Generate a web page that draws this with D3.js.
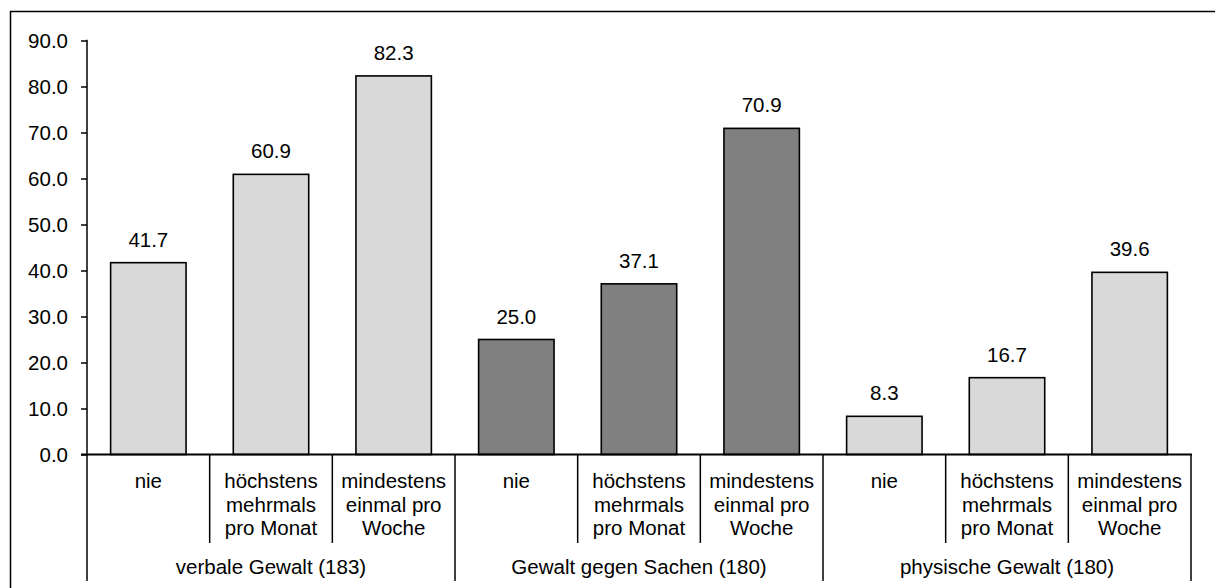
<!DOCTYPE html>
<html><head><meta charset="utf-8">
<script src="https://cdn.jsdelivr.net/npm/d3@7/dist/d3.min.js"></script>
<style>
html,body{margin:0;padding:0;background:#fff;}
svg{display:block;font-family:"Liberation Sans",Arial,sans-serif;}
</style></head>
<body>
<svg id="chart" width="1215" height="588"></svg>
<script>
const groups = ["verbale Gewalt (183)", "Gewalt gegen Sachen (180)", "physische Gewalt (180)"];
const categories = [["nie"], ["höchstens", "mehrmals", "pro Monat"], ["mindestens", "einmal pro", "Woche"]];
const valuesVerbal = [41.7, 60.9, 82.3];
const valuesSachen = [25.0, 37.1, 70.9];
const valuesPhysisch = [8.3, 16.7, 39.6];
const groupColors = ["#d9d9d9", "#808080", "#d9d9d9"];
const yTicks = [0, 10, 20, 30, 40, 50, 60, 70, 80, 90];

const seriesValues = [valuesVerbal, valuesSachen, valuesPhysisch];
const rows = [];
groups.forEach((g, gi) => {
  categories.forEach((c, ci) => {
    rows.push({key: gi + "-" + ci, group: gi, cat: ci, value: seriesValues[gi][ci]});
  });
});

const svg = d3.select("#chart");
const fontSize = 20.5;
const x0 = 87, x1 = 1191, yTop = 40.5, yBase = 454.5;

// outer border
svg.append("rect").attr("x", 10.5).attr("y", 11.5).attr("width", 1230).attr("height", 600)
  .attr("fill", "none").attr("stroke", "#000").attr("stroke-width", 1.5);

const x = d3.scaleBand().domain(rows.map(d => d.key)).range([x0, x1])
  .paddingInner(0.385).paddingOuter(0.1925);
const y = d3.scaleLinear().domain([0, 90]).range([yBase, yTop]);
const step = x.step();
const bandStart = i => x0 + i * step;

// bars
svg.append("g").selectAll("rect").data(rows).join("rect")
  .attr("x", d => x(d.key)).attr("width", x.bandwidth())
  .attr("y", d => y(d.value)).attr("height", d => y(0) - y(d.value))
  .attr("fill", d => groupColors[d.group])
  .attr("stroke", "#000").attr("stroke-width", 1.6);

// value labels
svg.append("g").selectAll("text").data(rows).join("text")
  .attr("x", d => x(d.key) + x.bandwidth() / 2)
  .attr("y", d => y(d.value) - 16)
  .attr("text-anchor", "middle").attr("font-size", fontSize)
  .text(d => d3.format(".1f")(d.value));

// y axis
const yAxis = d3.axisLeft(y).tickValues(yTicks).tickFormat(d3.format(".1f"))
  .tickSize(6).tickPadding(13);
const ga = svg.append("g").attr("transform", `translate(${x0},0)`).call(yAxis);
ga.select(".domain").remove();
ga.selectAll("line").attr("stroke", "#000").attr("stroke-width", 1.5);
ga.selectAll("text").attr("font-size", fontSize).attr("font-family", "Liberation Sans, Arial, sans-serif")
  .attr("fill", "#000").attr("dy", "0.36em");
svg.append("line").attr("x1", x0).attr("x2", x0).attr("y1", y(90) - 0.75).attr("y2", 581)
  .attr("stroke", "#000").attr("stroke-width", 1.5);

// x axis baseline
svg.append("line").attr("x1", x0 - 6).attr("x2", x1 + 1).attr("y1", y(0)).attr("y2", y(0))
  .attr("stroke", "#000").attr("stroke-width", 2);

// separators
const seps = d3.range(1, rows.length + 1);
svg.append("g").selectAll("line").data(seps).join("line")
  .attr("x1", i => bandStart(i)).attr("x2", i => bandStart(i))
  .attr("y1", y(0)).attr("y2", i => (i % 3 === 0) ? 581 : 543)
  .attr("stroke", "#000").attr("stroke-width", 1.5);

// category labels
const catG = svg.append("g").selectAll("text").data(rows).join("text")
  .attr("x", (d, i) => bandStart(i) + step / 2)
  .attr("y", 488).attr("text-anchor", "middle").attr("font-size", fontSize);
catG.each(function(d) {
  const t = d3.select(this);
  categories[d.cat].forEach((line, li) => {
    t.append("tspan").attr("x", t.attr("x")).attr("y", 488 + li * 23.5).text(line);
  });
});

// group labels
svg.append("g").selectAll("text").data(groups).join("text")
  .attr("x", (d, i) => bandStart(i * 3) + step * 1.5)
  .attr("y", 574).attr("text-anchor", "middle").attr("font-size", fontSize)
  .text(d => d);
</script>
</body></html>
